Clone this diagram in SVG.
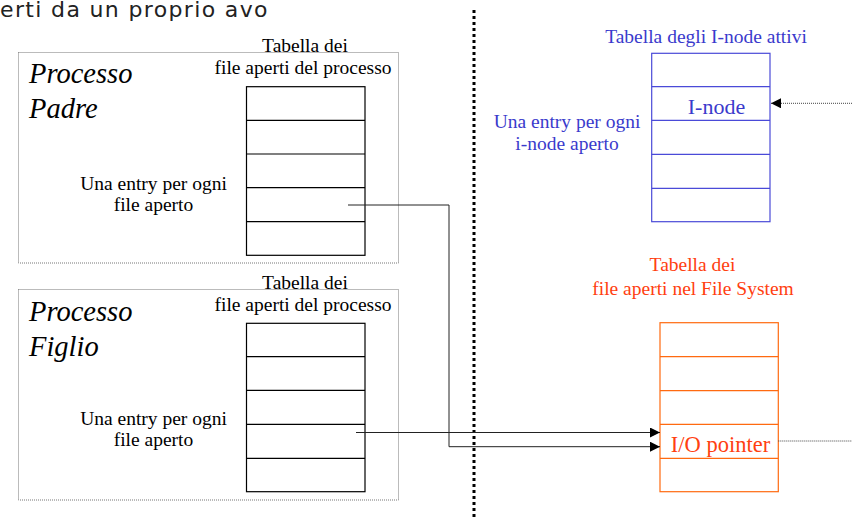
<svg xmlns="http://www.w3.org/2000/svg" width="852" height="520" viewBox="0 0 852 520">
  <style>
    .lbl { font-size: 19.5px; fill: #000; }
    .proc { font-size: 28.5px; font-style: italic; fill: #000; }
    .frame { fill: none; stroke: #777; stroke-width: 1; stroke-dasharray: 1 1; }
    .tbl { fill: #fff; stroke: #000; stroke-width: 1.2; }
    .blue { stroke: #4a4ad8; }
    .orange { stroke: #ff6a10; }
    .conn { fill: none; stroke: #222; stroke-width: 1; }
    .dot { fill: none; stroke: #444; stroke-width: 1; stroke-dasharray: 1 1; }
  </style>
  <defs>
    <marker id="arr" viewBox="0 0 10 10" refX="10" refY="5" markerWidth="10" markerHeight="10" markerUnits="userSpaceOnUse" orient="auto">
      <path d="M0,0 L10,5 L0,10 Z" fill="#000"/>
    </marker>
  </defs>
  <rect width="852" height="520" fill="#fff"/>

  <!-- heading fragment -->
  <text x="0" y="17" font-family="DejaVu Sans, sans-serif" font-size="22" letter-spacing="1.35" fill="#222">erti da un proprio avo</text>

  <!-- vertical separator -->
  <line x1="474" y1="10" x2="474" y2="520" stroke="#000" stroke-width="3" stroke-dasharray="3 3"/>

  <!-- parent process -->
  <g id="padre" font-family="Liberation Serif, serif">
    <rect class="frame" x="18.5" y="52.5" width="380" height="210.5"/>
    <text class="proc" x="29" y="83">Processo</text>
    <text class="proc" x="29" y="118">Padre</text>
    <text class="lbl" x="305" y="52" text-anchor="middle">Tabella dei</text>
    <text class="lbl" x="303" y="74" text-anchor="middle">file aperti del processo</text>
    <text class="lbl" x="153.5" y="190" text-anchor="middle">Una entry per ogni</text>
    <text class="lbl" x="153.5" y="211" text-anchor="middle">file aperto</text>
    <g class="tbl">
      <rect x="246.5" y="86.7" width="118.5" height="168.6"/>
      <path d="M246.5,120.4H365M246.5,154H365M246.5,187.7H365M246.5,221.6H365"/>
    </g>
  </g>

  <!-- child process -->
  <g id="figlio" font-family="Liberation Serif, serif">
    <rect class="frame" x="18.5" y="289.5" width="380" height="210.5"/>
    <text class="proc" x="29" y="321">Processo</text>
    <text class="proc" x="29" y="356">Figlio</text>
    <text class="lbl" x="305" y="289" text-anchor="middle">Tabella dei</text>
    <text class="lbl" x="303" y="311" text-anchor="middle">file aperti del processo</text>
    <text class="lbl" x="153.5" y="425" text-anchor="middle">Una entry per ogni</text>
    <text class="lbl" x="153.5" y="446" text-anchor="middle">file aperto</text>
    <g class="tbl">
      <rect x="246.5" y="323.3" width="118.5" height="168.4"/>
      <path d="M246.5,356.7H365M246.5,390.3H365M246.5,424.3H365M246.5,458.3H365"/>
    </g>
  </g>

  <!-- active i-node table -->
  <g id="inode" font-family="Liberation Serif, serif">
    <text x="706" y="43" font-size="19.5" fill="#3a3acc" text-anchor="middle">Tabella degli I-node attivi</text>
    <text x="567" y="128" font-size="19.5" fill="#3a3acc" text-anchor="middle">Una entry per ogni</text>
    <text x="567" y="150" font-size="19.5" fill="#3a3acc" text-anchor="middle">i-node aperto</text>
    <g class="tbl blue">
      <rect x="651.7" y="53.3" width="118.3" height="168.4"/>
      <path d="M651.7,86.7H770M651.7,120.3H770M651.7,154.3H770M651.7,188.3H770"/>
    </g>
    <text x="716.5" y="114" font-size="22" fill="#3a3acc" text-anchor="middle">I-node</text>
  </g>

  <!-- system open file table -->
  <g id="filetable" font-family="Liberation Serif, serif">
    <text x="692.5" y="271" font-size="19.5" fill="#ff4010" text-anchor="middle">Tabella dei</text>
    <text x="693" y="295" font-size="19.5" fill="#ff4010" text-anchor="middle">file aperti nel File System</text>
    <g class="tbl orange">
      <rect x="660" y="322.7" width="118.3" height="169"/>
      <path d="M660,356.7H778.3M660,390.7H778.3M660,424.3H778.3M660,458.3H778.3"/>
    </g>
    <text x="720.5" y="452" font-size="22.5" fill="#ff4010" text-anchor="middle">I/O pointer</text>
  </g>

  <!-- connectors -->
  <g id="connectors">
    <path class="conn" d="M348,205H449V446.7H660" marker-end="url(#arr)"/>
    <path class="conn" d="M356,432.5H660" marker-end="url(#arr)"/>
    <path class="dot" d="M852,103.3H771" marker-end="url(#arr)"/>
    <path class="dot" d="M778.3,441H852"/>
  </g>
</svg>
